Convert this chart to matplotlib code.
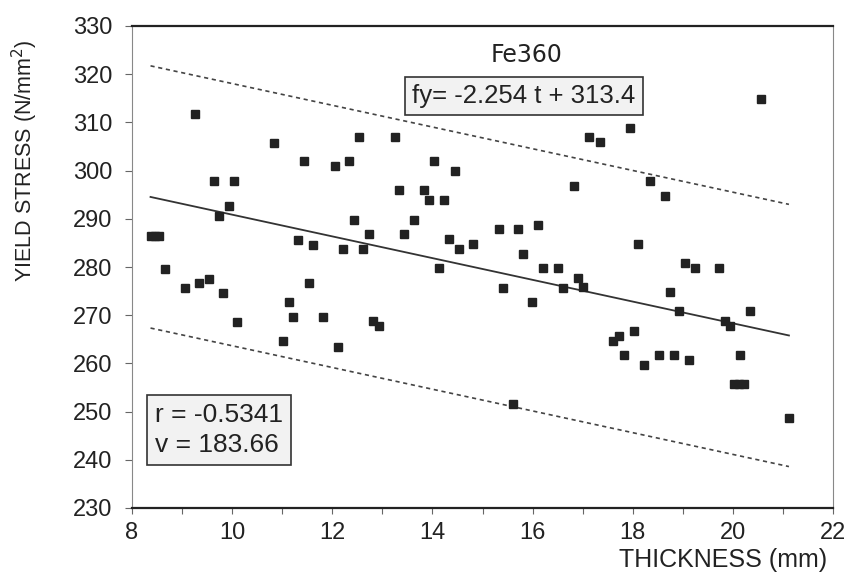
import numpy as np
import matplotlib
matplotlib.use("Agg")
import matplotlib.pyplot as plt
from matplotlib.ticker import MultipleLocator

# ---- data ----
thickness = [8.37, 8.46, 8.54, 9.25, 10.84, 9.64, 10.04, 9.94, 9.73, 11.32,
             8.66, 9.05, 9.34, 9.53, 9.82, 11.13, 11.21, 10.10, 11.01,
             12.54, 13.25, 11.43, 12.05, 12.34, 14.04, 14.45, 13.33, 13.83,
             13.94, 14.24, 12.43, 13.64, 12.74, 13.44, 11.62, 12.22, 12.62,
             14.33, 14.54, 14.13, 11.53, 11.81, 12.81, 12.93, 12.12,
             17.95, 17.12, 17.34, 16.82, 15.32, 15.71, 16.11, 14.82, 15.80,
             16.20, 16.50, 16.90, 17.01, 16.60, 15.40, 15.99, 17.61, 17.72,
             18.02, 18.10,
             20.56, 18.35, 18.65, 19.04, 19.25, 19.73, 18.74, 18.93, 20.34,
             19.84, 19.94, 18.53, 18.82, 19.13, 18.23, 20.14, 20.03, 20.13,
             20.23, 21.12, 17.83, 15.60]
yield_stress = [286.5, 286.5, 286.5, 311.7, 305.8, 297.8, 297.8, 292.7, 290.6, 285.7,
                279.6, 275.7, 276.7, 277.6, 274.6, 272.7, 269.7, 268.6, 264.6,
                306.9, 307.0, 301.9, 300.9, 301.9, 302.0, 300.0, 295.9, 295.9,
                293.8, 293.8, 289.8, 289.8, 286.8, 286.8, 284.6, 283.7, 283.8,
                285.8, 283.8, 279.8, 276.7, 269.7, 268.8, 267.7, 263.5,
                308.9, 306.9, 305.9, 296.8, 287.8, 287.8, 288.8, 284.7, 282.8,
                279.8, 279.8, 277.7, 275.8, 275.7, 275.7, 272.7, 264.7, 265.7,
                266.8, 284.8,
                314.8, 297.9, 294.8, 280.9, 279.8, 279.8, 274.9, 270.8, 270.8,
                268.8, 267.7, 261.8, 261.8, 260.7, 259.7, 261.7, 255.7, 255.7,
                255.7, 248.6, 261.7, 251.6]

slope = -2.254
intercept = 313.4
band = 27.2

title = "Fe360"
equation = "fy= -2.254 t + 313.4"
stats = "r = -0.5341\nv = 183.66"
xlabel = "THICKNESS (mm)"
ylabel = "YIELD STRESS (N/mm$^2$)"

x = np.array(thickness)
y = np.array(yield_stress)

plt.rcParams['font.family'] = ['Liberation Sans', 'DejaVu Sans']

fig = plt.figure(figsize=(8.46, 5.76), dpi=100)
W, H = 846, 576
ax_l, ax_r, ax_t, ax_b = 132, 833, 26, 508
ax = fig.add_axes([ax_l / W, 1 - ax_b / H, (ax_r - ax_l) / W, (ax_b - ax_t) / H])

ax.set_xlim(8, 22)
ax.set_ylim(230, 330)

tline = np.array([x.min(), x.max()])
fit = slope * tline + intercept
ax.plot(tline, fit, color='#333333', lw=1.3, zorder=2)
ax.plot(tline, fit + band, color='#444444', lw=1.2, ls=(0, (2.5, 2.2)), zorder=2)
ax.plot(tline, fit - band, color='#444444', lw=1.2, ls=(0, (2.5, 2.2)), zorder=2)

ax.plot(x, y, ls='none', marker='s', ms=6, color='#222222', mec='#222222', zorder=3)

# axes styling
for side in ['top', 'bottom']:
    ax.spines[side].set_linewidth(1.6)
    ax.spines[side].set_color('#222222')
for side in ['left', 'right']:
    ax.spines[side].set_linewidth(0.8)
    ax.spines[side].set_color('#888888')

ax.xaxis.set_major_locator(MultipleLocator(2))
ax.xaxis.set_minor_locator(MultipleLocator(1))
ax.yaxis.set_major_locator(MultipleLocator(10))
ax.tick_params(axis='y', which='major', direction='out', length=5, width=0.8,
               color='#666666', labelsize=17, labelcolor='#222222', pad=9)
ax.tick_params(axis='x', which='major', direction='out', length=4, width=0.8,
               color='#666666', labelsize=17, labelcolor='#222222', pad=6)
ax.tick_params(axis='x', which='minor', direction='out', length=4, width=0.8,
               color='#666666')

def fx(px):
    return (px - ax_l) / (ax_r - ax_l)

def fy(py):
    return (ax_b - py) / (ax_b - ax_t)

ax.text(fx(527), fy(55), title, transform=ax.transAxes, ha='center', va='center',
        fontsize=17, family='DejaVu Sans', color='#222222')

ax.text(fx(524), fy(96), equation, transform=ax.transAxes, ha='center', va='center',
        fontsize=18.5, color='#222222',
        bbox=dict(boxstyle='square,pad=0.28', facecolor='#f2f2f2', edgecolor='#333333', lw=1.2))

ax.text(fx(155), fy(430), stats, transform=ax.transAxes, ha='left', va='center',
        fontsize=19, color='#222222', linespacing=1.3,
        bbox=dict(boxstyle='square,pad=0.3', facecolor='#f2f2f2', edgecolor='#333333', lw=1.2))

fig.text(827 / W, 1 - 560 / H, xlabel, ha='right', va='center', fontsize=18, color='#222222')
fig.text(25 / W, 1 - 161 / H, ylabel, ha='center', va='center', rotation=90,
         fontsize=15.5, color='#222222')

fig.savefig('out.png', dpi=100, facecolor='white')
